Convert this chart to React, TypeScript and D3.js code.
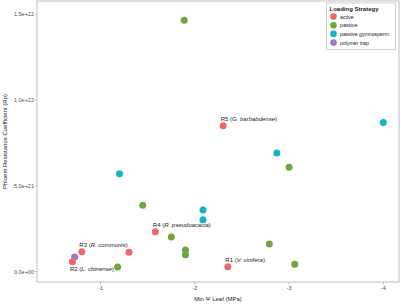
import React from "react";
import * as d3 from "d3";

const categories = ["active", "passive", "passive gymnosperm", "polymer trap"];
const colors = ["#F0666A", "#6CA63C", "#14B5BE", "#9B79C9"];

const pointStrategy = [
  "passive", "active", "passive gymnosperm", "passive gymnosperm", "passive",
  "passive gymnosperm", "passive", "passive gymnosperm", "passive gymnosperm", "active",
  "passive", "passive", "passive", "active", "passive",
  "passive", "active", "active", "polymer trap", "active", "passive",
];
const minPsiLeaf = [
  -1.887, -2.30, -4.0, -2.87, -3.0,
  -1.20, -1.446, -2.086, -2.086, -1.58,
  -1.75, -1.90, -1.90, -2.35, -2.79,
  -3.06, -1.30, -0.80, -0.724, -0.70, -1.18,
];
const phloemRp = [
  1.466e22, 8.51e21, 8.70e21, 6.91e21, 6.08e21,
  5.71e21, 3.86e21, 3.59e21, 3.02e21, 2.32e21,
  2.01e21, 1.25e21, 0.98e21, 0.28e21, 1.60e21,
  0.42e21, 1.12e21, 1.16e21, 0.85e21, 0.57e21, 0.26e21,
];

// annotation labels: index of point, code, species, placement
const labelPoint = [13, 19, 17, 9, 1];
const labelCode = ["R1", "R2", "R3", "R4", "R5"];
const labelSpecies = ["V. vinifera", "L. chinense", "R. communis", "R. pseudoacacia", "G. barbabdense"];
const labelBelow = [false, true, false, false, false];

const xTicks = [-1, -2, -3, -4];
const yTicks = [0, 5e21, 1e22, 1.5e22];
const yTickLabels = ["0.0e+00", "5.0e+21", "1.0e+22", "1.5e+22"];

export default function App() {
  const W = 401, H = 304;
  const left = 37, right = 399, top = 1, bottom = 282;
  const x = d3.scaleLinear().domain([-0.324, -4.167]).range([left, right]);
  const y = d3.scaleLinear().domain([-0.61e21, 1.578e22]).range([bottom, top]);
  const color = d3.scaleOrdinal<string, string>().domain(categories).range(colors);
  const font = "'Liberation Sans', Arial, sans-serif";
  const axisCol = "#BDBDBD";
  const tickText = "#4D4D4D";

  return (
    <svg width={W} height={H} style={{ position: "absolute", left: 0, top: 0, background: "#fff" }} fontFamily={font}>
      <rect x={0} y={0} width={W} height={H} fill="#fff" />
      <rect x={left} y={top} width={right - left} height={bottom - top} fill="none" stroke={axisCol} strokeWidth={1} />
      {xTicks.map((t) => (
        <g key={t}>
          <line x1={x(t)} x2={x(t)} y1={bottom} y2={bottom + 2.5} stroke={axisCol} />
          <text x={x(t)} y={bottom + 7.5} fontSize={5.5} fill={tickText} textAnchor="middle">{t}</text>
        </g>
      ))}
      {yTicks.map((t, i) => (
        <g key={t}>
          <line x1={left - 2.5} x2={left} y1={y(t)} y2={y(t)} stroke={axisCol} />
          <text x={left - 3} y={y(t) + 2} fontSize={5.5} fill={tickText} textAnchor="end">{yTickLabels[i]}</text>
        </g>
      ))}
      <text x={(left + right) / 2} y={301} fontSize={6} fill="#222" textAnchor="middle">Min Ψ Leaf (MPa)</text>
      <text transform={`translate(7,${(top + bottom) / 2}) rotate(-90)`} fontSize={6} fill="#222" textAnchor="middle">
        Phloem Resistance Coefficient (Rp)
      </text>
      {minPsiLeaf.map((v, i) => (
        <circle key={i} cx={x(v)} cy={y(phloemRp[i])} r={3.5} fill={color(pointStrategy[i])} />
      ))}
      {labelPoint.map((p, i) => {
        const px = x(minPsiLeaf[p]);
        const py = y(phloemRp[p]);
        return (
          <text key={i} x={px - 2.5} y={labelBelow[i] ? py + 9.5 : py - 4.5} fontSize={6} fill="#222">
            {labelCode[i]} (<tspan fontStyle="italic">{labelSpecies[i]}</tspan>)
          </text>
        );
      })}
      <g>
        <rect x={326.5} y={3} width={69} height={46.5} fill="#fff" stroke="#BDBDBD" strokeWidth={0.7} />
        <text x={329.5} y={11} fontSize={6} fontWeight="bold" fill="#222">Loading Strategy</text>
        {categories.map((c, i) => (
          <g key={c}>
            <circle cx={333.5} cy={16.5 + i * 8.7} r={3.3} fill={color(c)} />
            <text x={340} y={18.5 + i * 8.7} fontSize={5.2} fill="#222">{c}</text>
          </g>
        ))}
      </g>
    </svg>
  );
}
